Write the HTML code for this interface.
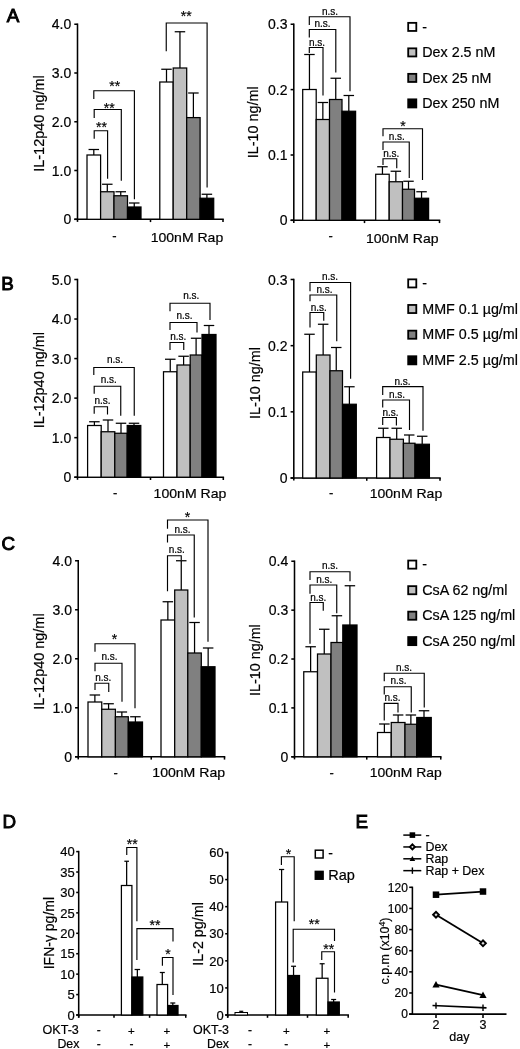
<!DOCTYPE html>
<html><head><meta charset="utf-8"><title>Figure</title>
<style>
html,body{margin:0;padding:0;background:#fff;}
body{width:520px;height:1049px;overflow:hidden;font-family:"Liberation Sans",sans-serif;}
svg{display:block;position:absolute;left:0;top:0;will-change:transform;filter:grayscale(1);}
svg text{font-family:"Liberation Sans",sans-serif;fill:#000;stroke:#000;stroke-width:0.2px;}
</style></head><body>
<svg width="520" height="1049" viewBox="0 0 520 1049">
<rect x="0" y="0" width="520" height="1049" fill="#fff"/>
<text x="6.80" y="22.30" font-size="18.8" style="stroke:#000;stroke-width:0.95px">A</text>
<text x="1.30" y="289.60" font-size="18.8" style="stroke:#000;stroke-width:0.95px">B</text>
<text x="1.60" y="550.30" font-size="18.8" style="stroke:#000;stroke-width:0.95px">C</text>
<text x="2.60" y="827.60" font-size="18.8" style="stroke:#000;stroke-width:0.95px">D</text>
<text x="355.40" y="828.30" font-size="18.8" style="stroke:#000;stroke-width:0.95px">E</text>
<line x1="77.50" y1="23.48" x2="77.50" y2="220.08" stroke="#000" stroke-width="1.55"/>
<line x1="74.30" y1="219.30" x2="223.78" y2="219.30" stroke="#000" stroke-width="1.55"/>
<line x1="74.30" y1="24.25" x2="77.50" y2="24.25" stroke="#000" stroke-width="1.55"/>
<text x="71.20" y="29.29" font-size="14" text-anchor="end" font-weight="normal">4.0</text>
<line x1="74.30" y1="73.00" x2="77.50" y2="73.00" stroke="#000" stroke-width="1.55"/>
<text x="71.20" y="78.04" font-size="14" text-anchor="end" font-weight="normal">3.0</text>
<line x1="74.30" y1="121.75" x2="77.50" y2="121.75" stroke="#000" stroke-width="1.55"/>
<text x="71.20" y="126.79" font-size="14" text-anchor="end" font-weight="normal">2.0</text>
<line x1="74.30" y1="170.50" x2="77.50" y2="170.50" stroke="#000" stroke-width="1.55"/>
<text x="71.20" y="175.54" font-size="14" text-anchor="end" font-weight="normal">1.0</text>
<line x1="74.30" y1="219.30" x2="77.50" y2="219.30" stroke="#000" stroke-width="1.55"/>
<text x="71.20" y="224.34" font-size="14" text-anchor="end" font-weight="normal">0</text>
<line x1="150.50" y1="219.30" x2="150.50" y2="222.10" stroke="#000" stroke-width="1.55"/>
<line x1="223.00" y1="219.30" x2="223.00" y2="222.10" stroke="#000" stroke-width="1.55"/>
<line x1="77.50" y1="219.30" x2="77.50" y2="221.90" stroke="#000" stroke-width="1.55"/>
<line x1="93.80" y1="149.50" x2="93.80" y2="155.00" stroke="#000" stroke-width="1.25"/>
<line x1="88.55" y1="149.50" x2="99.05" y2="149.50" stroke="#000" stroke-width="1.25"/>
<rect x="87.00" y="155.00" width="13.60" height="64.30" fill="#ffffff" stroke="#000" stroke-width="1.25"/>
<line x1="107.30" y1="184.25" x2="107.30" y2="191.75" stroke="#000" stroke-width="1.25"/>
<line x1="102.05" y1="184.25" x2="112.55" y2="184.25" stroke="#000" stroke-width="1.25"/>
<rect x="100.60" y="191.75" width="13.40" height="27.55" fill="#c0c0c0" stroke="#000" stroke-width="1.25"/>
<line x1="120.75" y1="191.75" x2="120.75" y2="195.75" stroke="#000" stroke-width="1.25"/>
<line x1="115.50" y1="191.75" x2="126.00" y2="191.75" stroke="#000" stroke-width="1.25"/>
<rect x="114.00" y="195.75" width="13.50" height="23.55" fill="#808080" stroke="#000" stroke-width="1.25"/>
<line x1="134.25" y1="203.00" x2="134.25" y2="207.00" stroke="#000" stroke-width="1.25"/>
<line x1="129.00" y1="203.00" x2="139.50" y2="203.00" stroke="#000" stroke-width="1.25"/>
<rect x="127.50" y="207.00" width="13.50" height="12.30" fill="#000000" stroke="#000" stroke-width="1.25"/>
<line x1="166.50" y1="69.25" x2="166.50" y2="82.00" stroke="#000" stroke-width="1.25"/>
<line x1="161.25" y1="69.25" x2="171.75" y2="69.25" stroke="#000" stroke-width="1.25"/>
<rect x="159.80" y="82.00" width="13.40" height="137.30" fill="#ffffff" stroke="#000" stroke-width="1.25"/>
<line x1="179.95" y1="31.75" x2="179.95" y2="68.00" stroke="#000" stroke-width="1.25"/>
<line x1="174.70" y1="31.75" x2="185.20" y2="31.75" stroke="#000" stroke-width="1.25"/>
<rect x="173.20" y="68.00" width="13.50" height="151.30" fill="#c0c0c0" stroke="#000" stroke-width="1.25"/>
<line x1="193.40" y1="93.00" x2="193.40" y2="117.60" stroke="#000" stroke-width="1.25"/>
<line x1="188.15" y1="93.00" x2="198.65" y2="93.00" stroke="#000" stroke-width="1.25"/>
<rect x="186.70" y="117.60" width="13.40" height="101.70" fill="#808080" stroke="#000" stroke-width="1.25"/>
<line x1="206.90" y1="194.25" x2="206.90" y2="198.25" stroke="#000" stroke-width="1.25"/>
<line x1="201.65" y1="194.25" x2="212.15" y2="194.25" stroke="#000" stroke-width="1.25"/>
<rect x="200.10" y="198.25" width="13.60" height="21.05" fill="#000000" stroke="#000" stroke-width="1.25"/>
<polyline points="94.20,138.75 94.20,130.70 107.60,130.70 107.60,178.75" fill="none" stroke="#000" stroke-width="1.15" stroke-linejoin="miter"/>
<polyline points="94.20,118.00 94.20,109.50 121.30,109.50 121.30,180.75" fill="none" stroke="#000" stroke-width="1.15" stroke-linejoin="miter"/>
<polyline points="93.80,99.00 93.80,90.70 134.40,90.70 134.40,199.25" fill="none" stroke="#000" stroke-width="1.15" stroke-linejoin="miter"/>
<text x="101.40" y="132.00" font-size="14" text-anchor="middle" font-weight="normal">**</text>
<text x="109.20" y="112.60" font-size="14" text-anchor="middle" font-weight="normal">**</text>
<text x="114.70" y="90.70" font-size="14" text-anchor="middle" font-weight="normal">**</text>
<polyline points="166.25,51.25 166.25,23.00 207.10,23.00 207.10,187.50" fill="none" stroke="#000" stroke-width="1.15" stroke-linejoin="miter"/>
<text x="186.25" y="21.20" font-size="14" text-anchor="middle" font-weight="normal">**</text>
<text x="43.60" y="171.80" font-size="14.3" text-anchor="start" font-weight="normal" transform="rotate(-90 43.60 171.80)" textLength="96.60" lengthAdjust="spacingAndGlyphs">IL-12p40 ng/ml</text>
<text x="114.40" y="240.10" font-size="13" text-anchor="middle" font-weight="normal">-</text>
<text x="150.70" y="241.70" font-size="13.5" text-anchor="start" font-weight="normal" textLength="72.50" lengthAdjust="spacingAndGlyphs">100nM Rap</text>
<line x1="293.80" y1="23.48" x2="293.80" y2="221.08" stroke="#000" stroke-width="1.55"/>
<line x1="290.60" y1="220.30" x2="440.27" y2="220.30" stroke="#000" stroke-width="1.55"/>
<line x1="290.60" y1="24.25" x2="293.80" y2="24.25" stroke="#000" stroke-width="1.55"/>
<text x="287.50" y="29.29" font-size="14" text-anchor="end" font-weight="normal">0.3</text>
<line x1="290.60" y1="89.60" x2="293.80" y2="89.60" stroke="#000" stroke-width="1.55"/>
<text x="287.50" y="94.64" font-size="14" text-anchor="end" font-weight="normal">0.2</text>
<line x1="290.60" y1="155.00" x2="293.80" y2="155.00" stroke="#000" stroke-width="1.55"/>
<text x="287.50" y="160.04" font-size="14" text-anchor="end" font-weight="normal">0.1</text>
<line x1="290.60" y1="220.30" x2="293.80" y2="220.30" stroke="#000" stroke-width="1.55"/>
<text x="287.50" y="225.34" font-size="14" text-anchor="end" font-weight="normal">0</text>
<line x1="364.50" y1="220.30" x2="364.50" y2="223.10" stroke="#000" stroke-width="1.55"/>
<line x1="439.50" y1="220.30" x2="439.50" y2="223.10" stroke="#000" stroke-width="1.55"/>
<line x1="293.80" y1="220.30" x2="293.80" y2="222.90" stroke="#000" stroke-width="1.55"/>
<line x1="309.45" y1="54.50" x2="309.45" y2="89.50" stroke="#000" stroke-width="1.25"/>
<line x1="304.20" y1="54.50" x2="314.70" y2="54.50" stroke="#000" stroke-width="1.25"/>
<rect x="302.70" y="89.50" width="13.50" height="130.80" fill="#ffffff" stroke="#000" stroke-width="1.25"/>
<line x1="322.85" y1="102.50" x2="322.85" y2="119.50" stroke="#000" stroke-width="1.25"/>
<line x1="317.60" y1="102.50" x2="328.10" y2="102.50" stroke="#000" stroke-width="1.25"/>
<rect x="316.20" y="119.50" width="13.30" height="100.80" fill="#c0c0c0" stroke="#000" stroke-width="1.25"/>
<line x1="335.75" y1="78.25" x2="335.75" y2="99.50" stroke="#000" stroke-width="1.25"/>
<line x1="330.50" y1="78.25" x2="341.00" y2="78.25" stroke="#000" stroke-width="1.25"/>
<rect x="329.50" y="99.50" width="12.50" height="120.80" fill="#808080" stroke="#000" stroke-width="1.25"/>
<line x1="348.80" y1="95.50" x2="348.80" y2="111.25" stroke="#000" stroke-width="1.25"/>
<line x1="343.55" y1="95.50" x2="354.05" y2="95.50" stroke="#000" stroke-width="1.25"/>
<rect x="342.00" y="111.25" width="13.60" height="109.05" fill="#000000" stroke="#000" stroke-width="1.25"/>
<line x1="382.45" y1="166.75" x2="382.45" y2="174.25" stroke="#000" stroke-width="1.25"/>
<line x1="377.20" y1="166.75" x2="387.70" y2="166.75" stroke="#000" stroke-width="1.25"/>
<rect x="375.70" y="174.25" width="13.50" height="46.05" fill="#ffffff" stroke="#000" stroke-width="1.25"/>
<line x1="395.85" y1="171.25" x2="395.85" y2="181.75" stroke="#000" stroke-width="1.25"/>
<line x1="390.60" y1="171.25" x2="401.10" y2="171.25" stroke="#000" stroke-width="1.25"/>
<rect x="389.20" y="181.75" width="13.30" height="38.55" fill="#c0c0c0" stroke="#000" stroke-width="1.25"/>
<line x1="408.50" y1="181.25" x2="408.50" y2="189.25" stroke="#000" stroke-width="1.25"/>
<line x1="403.25" y1="181.25" x2="413.75" y2="181.25" stroke="#000" stroke-width="1.25"/>
<rect x="402.50" y="189.25" width="12.00" height="31.05" fill="#808080" stroke="#000" stroke-width="1.25"/>
<line x1="421.55" y1="191.75" x2="421.55" y2="198.25" stroke="#000" stroke-width="1.25"/>
<line x1="416.30" y1="191.75" x2="426.80" y2="191.75" stroke="#000" stroke-width="1.25"/>
<rect x="414.50" y="198.25" width="14.10" height="22.05" fill="#000000" stroke="#000" stroke-width="1.25"/>
<polyline points="309.30,53.00 309.30,47.50 323.00,47.50 323.00,95.50" fill="none" stroke="#000" stroke-width="1.15" stroke-linejoin="miter"/>
<polyline points="309.30,37.50 309.30,29.50 335.80,29.50 335.80,72.50" fill="none" stroke="#000" stroke-width="1.15" stroke-linejoin="miter"/>
<polyline points="309.30,25.00 309.30,16.75 350.00,16.75 350.00,91.25" fill="none" stroke="#000" stroke-width="1.15" stroke-linejoin="miter"/>
<text x="317.00" y="45.60" font-size="10" text-anchor="middle" font-weight="normal">n.s.</text>
<text x="322.50" y="27.30" font-size="10" text-anchor="middle" font-weight="normal">n.s.</text>
<text x="330.00" y="14.80" font-size="10" text-anchor="middle" font-weight="normal">n.s.</text>
<polyline points="383.00,165.00 383.00,158.75 396.75,158.75 396.75,168.25" fill="none" stroke="#000" stroke-width="1.15" stroke-linejoin="miter"/>
<polyline points="383.00,150.00 383.00,142.00 409.25,142.00 409.25,178.00" fill="none" stroke="#000" stroke-width="1.15" stroke-linejoin="miter"/>
<polyline points="383.00,136.25 383.00,128.75 422.50,128.75 422.50,180.00" fill="none" stroke="#000" stroke-width="1.15" stroke-linejoin="miter"/>
<text x="391.25" y="157.00" font-size="10" text-anchor="middle" font-weight="normal">n.s.</text>
<text x="396.75" y="140.00" font-size="10" text-anchor="middle" font-weight="normal">n.s.</text>
<text x="403.00" y="131.45" font-size="14" text-anchor="middle" font-weight="normal">*</text>
<text x="258.40" y="158.20" font-size="14.3" text-anchor="start" font-weight="normal" transform="rotate(-90 258.40 158.20)" textLength="71.80" lengthAdjust="spacingAndGlyphs">IL-10 ng/ml</text>
<text x="330.60" y="240.30" font-size="13" text-anchor="middle" font-weight="normal">-</text>
<text x="366.00" y="242.60" font-size="13.5" text-anchor="start" font-weight="normal" textLength="72.50" lengthAdjust="spacingAndGlyphs">100nM Rap</text>
<rect x="408.20" y="22.85" width="8.10" height="8.10" fill="#ffffff" stroke="#000" stroke-width="1.8"/>
<text x="422.30" y="31.60" font-size="14.3" text-anchor="start" font-weight="normal">-</text>
<rect x="408.20" y="48.35" width="8.10" height="8.10" fill="#c0c0c0" stroke="#000" stroke-width="1.8"/>
<text x="422.30" y="57.10" font-size="14.3" text-anchor="start" font-weight="normal">Dex 2.5 nM</text>
<rect x="408.20" y="73.85" width="8.10" height="8.10" fill="#808080" stroke="#000" stroke-width="1.8"/>
<text x="422.30" y="82.60" font-size="14.3" text-anchor="start" font-weight="normal">Dex 25 nM</text>
<rect x="408.20" y="99.35" width="8.10" height="8.10" fill="#000000" stroke="#000" stroke-width="1.8"/>
<text x="422.30" y="108.10" font-size="14.3" text-anchor="start" font-weight="normal">Dex 250 nM</text>
<line x1="77.50" y1="278.73" x2="77.50" y2="477.97" stroke="#000" stroke-width="1.55"/>
<line x1="74.30" y1="477.20" x2="224.08" y2="477.20" stroke="#000" stroke-width="1.55"/>
<line x1="74.30" y1="279.50" x2="77.50" y2="279.50" stroke="#000" stroke-width="1.55"/>
<text x="71.20" y="284.54" font-size="14" text-anchor="end" font-weight="normal">5.0</text>
<line x1="74.30" y1="319.04" x2="77.50" y2="319.04" stroke="#000" stroke-width="1.55"/>
<text x="71.20" y="324.08" font-size="14" text-anchor="end" font-weight="normal">4.0</text>
<line x1="74.30" y1="358.58" x2="77.50" y2="358.58" stroke="#000" stroke-width="1.55"/>
<text x="71.20" y="363.62" font-size="14" text-anchor="end" font-weight="normal">3.0</text>
<line x1="74.30" y1="398.12" x2="77.50" y2="398.12" stroke="#000" stroke-width="1.55"/>
<text x="71.20" y="403.16" font-size="14" text-anchor="end" font-weight="normal">2.0</text>
<line x1="74.30" y1="437.66" x2="77.50" y2="437.66" stroke="#000" stroke-width="1.55"/>
<text x="71.20" y="442.70" font-size="14" text-anchor="end" font-weight="normal">1.0</text>
<line x1="74.30" y1="477.20" x2="77.50" y2="477.20" stroke="#000" stroke-width="1.55"/>
<text x="71.20" y="482.24" font-size="14" text-anchor="end" font-weight="normal">0</text>
<line x1="150.50" y1="477.20" x2="150.50" y2="480.00" stroke="#000" stroke-width="1.55"/>
<line x1="223.30" y1="477.20" x2="223.30" y2="480.00" stroke="#000" stroke-width="1.55"/>
<line x1="77.50" y1="477.20" x2="77.50" y2="479.80" stroke="#000" stroke-width="1.55"/>
<line x1="94.40" y1="421.75" x2="94.40" y2="425.50" stroke="#000" stroke-width="1.25"/>
<line x1="89.15" y1="421.75" x2="99.65" y2="421.75" stroke="#000" stroke-width="1.25"/>
<rect x="87.60" y="425.50" width="13.60" height="51.70" fill="#ffffff" stroke="#000" stroke-width="1.25"/>
<line x1="108.00" y1="420.00" x2="108.00" y2="431.75" stroke="#000" stroke-width="1.25"/>
<line x1="102.75" y1="420.00" x2="113.25" y2="420.00" stroke="#000" stroke-width="1.25"/>
<rect x="101.20" y="431.75" width="13.60" height="45.45" fill="#c0c0c0" stroke="#000" stroke-width="1.25"/>
<line x1="121.00" y1="423.25" x2="121.00" y2="433.25" stroke="#000" stroke-width="1.25"/>
<line x1="115.75" y1="423.25" x2="126.25" y2="423.25" stroke="#000" stroke-width="1.25"/>
<rect x="114.80" y="433.25" width="12.40" height="43.95" fill="#808080" stroke="#000" stroke-width="1.25"/>
<line x1="134.00" y1="423.25" x2="134.00" y2="425.50" stroke="#000" stroke-width="1.25"/>
<line x1="128.75" y1="423.25" x2="139.25" y2="423.25" stroke="#000" stroke-width="1.25"/>
<rect x="127.20" y="425.50" width="13.60" height="51.70" fill="#000000" stroke="#000" stroke-width="1.25"/>
<line x1="170.25" y1="359.25" x2="170.25" y2="371.75" stroke="#000" stroke-width="1.25"/>
<line x1="165.00" y1="359.25" x2="175.50" y2="359.25" stroke="#000" stroke-width="1.25"/>
<rect x="163.50" y="371.75" width="13.50" height="105.45" fill="#ffffff" stroke="#000" stroke-width="1.25"/>
<line x1="183.60" y1="356.25" x2="183.60" y2="365.00" stroke="#000" stroke-width="1.25"/>
<line x1="178.35" y1="356.25" x2="188.85" y2="356.25" stroke="#000" stroke-width="1.25"/>
<rect x="177.00" y="365.00" width="13.20" height="112.20" fill="#c0c0c0" stroke="#000" stroke-width="1.25"/>
<line x1="196.10" y1="338.25" x2="196.10" y2="355.00" stroke="#000" stroke-width="1.25"/>
<line x1="190.85" y1="338.25" x2="201.35" y2="338.25" stroke="#000" stroke-width="1.25"/>
<rect x="190.20" y="355.00" width="11.80" height="122.20" fill="#808080" stroke="#000" stroke-width="1.25"/>
<line x1="209.00" y1="325.50" x2="209.00" y2="334.50" stroke="#000" stroke-width="1.25"/>
<line x1="203.75" y1="325.50" x2="214.25" y2="325.50" stroke="#000" stroke-width="1.25"/>
<rect x="202.00" y="334.50" width="14.00" height="142.70" fill="#000000" stroke="#000" stroke-width="1.25"/>
<polyline points="94.20,413.75 94.20,406.75 107.50,406.75 107.50,414.50" fill="none" stroke="#000" stroke-width="1.15" stroke-linejoin="miter"/>
<polyline points="94.20,393.75 94.20,386.20 120.75,386.20 120.75,415.75" fill="none" stroke="#000" stroke-width="1.15" stroke-linejoin="miter"/>
<polyline points="93.80,375.00 93.80,367.50 134.25,367.50 134.25,415.75" fill="none" stroke="#000" stroke-width="1.15" stroke-linejoin="miter"/>
<text x="102.50" y="403.75" font-size="10" text-anchor="middle" font-weight="normal">n.s.</text>
<text x="108.75" y="383.20" font-size="10" text-anchor="middle" font-weight="normal">n.s.</text>
<text x="115.00" y="363.30" font-size="10" text-anchor="middle" font-weight="normal">n.s.</text>
<polyline points="170.00,350.00 170.00,342.50 183.75,342.50 183.75,350.00" fill="none" stroke="#000" stroke-width="1.15" stroke-linejoin="miter"/>
<polyline points="170.00,330.00 170.00,322.50 197.00,322.50 197.00,332.50" fill="none" stroke="#000" stroke-width="1.15" stroke-linejoin="miter"/>
<polyline points="170.00,311.25 170.00,303.25 210.00,303.25 210.00,320.00" fill="none" stroke="#000" stroke-width="1.15" stroke-linejoin="miter"/>
<text x="178.25" y="339.50" font-size="10" text-anchor="middle" font-weight="normal">n.s.</text>
<text x="184.50" y="318.75" font-size="10" text-anchor="middle" font-weight="normal">n.s.</text>
<text x="191.25" y="298.75" font-size="10" text-anchor="middle" font-weight="normal">n.s.</text>
<text x="43.90" y="428.30" font-size="14.3" text-anchor="start" font-weight="normal" transform="rotate(-90 43.90 428.30)" textLength="96.30" lengthAdjust="spacingAndGlyphs">IL-12p40 ng/ml</text>
<text x="115.20" y="496.70" font-size="13" text-anchor="middle" font-weight="normal">-</text>
<text x="153.60" y="498.30" font-size="13.5" text-anchor="start" font-weight="normal" textLength="72.80" lengthAdjust="spacingAndGlyphs">100nM Rap</text>
<line x1="293.80" y1="278.73" x2="293.80" y2="478.77" stroke="#000" stroke-width="1.55"/>
<line x1="290.60" y1="478.00" x2="440.77" y2="478.00" stroke="#000" stroke-width="1.55"/>
<line x1="290.60" y1="279.50" x2="293.80" y2="279.50" stroke="#000" stroke-width="1.55"/>
<text x="287.50" y="284.54" font-size="14" text-anchor="end" font-weight="normal">0.3</text>
<line x1="290.60" y1="345.67" x2="293.80" y2="345.67" stroke="#000" stroke-width="1.55"/>
<text x="287.50" y="350.71" font-size="14" text-anchor="end" font-weight="normal">0.2</text>
<line x1="290.60" y1="411.83" x2="293.80" y2="411.83" stroke="#000" stroke-width="1.55"/>
<text x="287.50" y="416.87" font-size="14" text-anchor="end" font-weight="normal">0.1</text>
<line x1="290.60" y1="478.00" x2="293.80" y2="478.00" stroke="#000" stroke-width="1.55"/>
<text x="287.50" y="483.04" font-size="14" text-anchor="end" font-weight="normal">0</text>
<line x1="366.75" y1="478.00" x2="366.75" y2="480.80" stroke="#000" stroke-width="1.55"/>
<line x1="440.00" y1="478.00" x2="440.00" y2="480.80" stroke="#000" stroke-width="1.55"/>
<line x1="293.80" y1="478.00" x2="293.80" y2="480.60" stroke="#000" stroke-width="1.55"/>
<line x1="309.50" y1="334.25" x2="309.50" y2="372.00" stroke="#000" stroke-width="1.25"/>
<line x1="304.25" y1="334.25" x2="314.75" y2="334.25" stroke="#000" stroke-width="1.25"/>
<rect x="302.70" y="372.00" width="13.60" height="106.00" fill="#ffffff" stroke="#000" stroke-width="1.25"/>
<line x1="323.15" y1="324.25" x2="323.15" y2="355.00" stroke="#000" stroke-width="1.25"/>
<line x1="317.90" y1="324.25" x2="328.40" y2="324.25" stroke="#000" stroke-width="1.25"/>
<rect x="316.30" y="355.00" width="13.70" height="123.00" fill="#c0c0c0" stroke="#000" stroke-width="1.25"/>
<line x1="336.25" y1="347.50" x2="336.25" y2="370.75" stroke="#000" stroke-width="1.25"/>
<line x1="331.00" y1="347.50" x2="341.50" y2="347.50" stroke="#000" stroke-width="1.25"/>
<rect x="330.00" y="370.75" width="12.50" height="107.25" fill="#808080" stroke="#000" stroke-width="1.25"/>
<line x1="349.40" y1="386.75" x2="349.40" y2="404.25" stroke="#000" stroke-width="1.25"/>
<line x1="344.15" y1="386.75" x2="354.65" y2="386.75" stroke="#000" stroke-width="1.25"/>
<rect x="342.50" y="404.25" width="13.80" height="73.75" fill="#000000" stroke="#000" stroke-width="1.25"/>
<line x1="383.30" y1="428.25" x2="383.30" y2="437.50" stroke="#000" stroke-width="1.25"/>
<line x1="378.05" y1="428.25" x2="388.55" y2="428.25" stroke="#000" stroke-width="1.25"/>
<rect x="376.60" y="437.50" width="13.40" height="40.50" fill="#ffffff" stroke="#000" stroke-width="1.25"/>
<line x1="396.70" y1="428.25" x2="396.70" y2="439.25" stroke="#000" stroke-width="1.25"/>
<line x1="391.45" y1="428.25" x2="401.95" y2="428.25" stroke="#000" stroke-width="1.25"/>
<rect x="390.00" y="439.25" width="13.40" height="38.75" fill="#c0c0c0" stroke="#000" stroke-width="1.25"/>
<line x1="409.20" y1="435.00" x2="409.20" y2="443.25" stroke="#000" stroke-width="1.25"/>
<line x1="403.95" y1="435.00" x2="414.45" y2="435.00" stroke="#000" stroke-width="1.25"/>
<rect x="403.40" y="443.25" width="11.60" height="34.75" fill="#808080" stroke="#000" stroke-width="1.25"/>
<line x1="422.20" y1="436.25" x2="422.20" y2="444.25" stroke="#000" stroke-width="1.25"/>
<line x1="416.95" y1="436.25" x2="427.45" y2="436.25" stroke="#000" stroke-width="1.25"/>
<rect x="415.00" y="444.25" width="14.40" height="33.75" fill="#000000" stroke="#000" stroke-width="1.25"/>
<polyline points="310.00,327.50 310.00,312.50 323.75,312.50 323.75,320.75" fill="none" stroke="#000" stroke-width="1.15" stroke-linejoin="miter"/>
<polyline points="310.00,301.25 310.00,295.00 336.75,295.00 336.75,341.25" fill="none" stroke="#000" stroke-width="1.15" stroke-linejoin="miter"/>
<polyline points="310.00,291.25 310.00,282.50 350.60,282.50 350.60,378.75" fill="none" stroke="#000" stroke-width="1.15" stroke-linejoin="miter"/>
<text x="318.75" y="310.50" font-size="10" text-anchor="middle" font-weight="normal">n.s.</text>
<text x="324.50" y="293.00" font-size="10" text-anchor="middle" font-weight="normal">n.s.</text>
<text x="330.00" y="279.50" font-size="10" text-anchor="middle" font-weight="normal">n.s.</text>
<polyline points="382.70,425.00 382.70,417.50 396.40,417.50 396.40,425.50" fill="none" stroke="#000" stroke-width="1.15" stroke-linejoin="miter"/>
<polyline points="382.70,407.50 382.70,400.00 409.50,400.00 409.50,430.00" fill="none" stroke="#000" stroke-width="1.15" stroke-linejoin="miter"/>
<polyline points="382.70,395.00 382.70,386.60 423.00,386.60 423.00,430.75" fill="none" stroke="#000" stroke-width="1.15" stroke-linejoin="miter"/>
<text x="390.60" y="416.00" font-size="10" text-anchor="middle" font-weight="normal">n.s.</text>
<text x="397.00" y="397.80" font-size="10" text-anchor="middle" font-weight="normal">n.s.</text>
<text x="402.50" y="384.60" font-size="10" text-anchor="middle" font-weight="normal">n.s.</text>
<text x="260.30" y="418.90" font-size="14.3" text-anchor="start" font-weight="normal" transform="rotate(-90 260.30 418.90)" textLength="71.80" lengthAdjust="spacingAndGlyphs">IL-10 ng/ml</text>
<text x="331.10" y="496.90" font-size="13" text-anchor="middle" font-weight="normal">-</text>
<text x="369.70" y="498.30" font-size="13.5" text-anchor="start" font-weight="normal" textLength="72.50" lengthAdjust="spacingAndGlyphs">100nM Rap</text>
<rect x="408.20" y="279.35" width="8.10" height="8.10" fill="#ffffff" stroke="#000" stroke-width="1.8"/>
<text x="422.30" y="288.10" font-size="14.3" text-anchor="start" font-weight="normal">-</text>
<rect x="408.20" y="304.95" width="8.10" height="8.10" fill="#c0c0c0" stroke="#000" stroke-width="1.8"/>
<text x="422.30" y="313.70" font-size="14.3" text-anchor="start" font-weight="normal">MMF 0.1 µg/ml</text>
<rect x="408.20" y="330.65" width="8.10" height="8.10" fill="#808080" stroke="#000" stroke-width="1.8"/>
<text x="422.30" y="339.40" font-size="14.3" text-anchor="start" font-weight="normal">MMF 0.5 µg/ml</text>
<rect x="408.20" y="356.25" width="8.10" height="8.10" fill="#000000" stroke="#000" stroke-width="1.8"/>
<text x="422.30" y="365.00" font-size="14.3" text-anchor="start" font-weight="normal">MMF 2.5 µg/ml</text>
<line x1="78.25" y1="559.98" x2="78.25" y2="757.57" stroke="#000" stroke-width="1.55"/>
<line x1="75.05" y1="756.80" x2="225.28" y2="756.80" stroke="#000" stroke-width="1.55"/>
<line x1="75.05" y1="560.75" x2="78.25" y2="560.75" stroke="#000" stroke-width="1.55"/>
<text x="71.95" y="565.79" font-size="14" text-anchor="end" font-weight="normal">4.0</text>
<line x1="75.05" y1="609.76" x2="78.25" y2="609.76" stroke="#000" stroke-width="1.55"/>
<text x="71.95" y="614.80" font-size="14" text-anchor="end" font-weight="normal">3.0</text>
<line x1="75.05" y1="658.77" x2="78.25" y2="658.77" stroke="#000" stroke-width="1.55"/>
<text x="71.95" y="663.81" font-size="14" text-anchor="end" font-weight="normal">2.0</text>
<line x1="75.05" y1="707.79" x2="78.25" y2="707.79" stroke="#000" stroke-width="1.55"/>
<text x="71.95" y="712.83" font-size="14" text-anchor="end" font-weight="normal">1.0</text>
<line x1="75.05" y1="756.80" x2="78.25" y2="756.80" stroke="#000" stroke-width="1.55"/>
<text x="71.95" y="761.84" font-size="14" text-anchor="end" font-weight="normal">0</text>
<line x1="151.25" y1="756.80" x2="151.25" y2="759.60" stroke="#000" stroke-width="1.55"/>
<line x1="224.50" y1="756.80" x2="224.50" y2="759.60" stroke="#000" stroke-width="1.55"/>
<line x1="78.25" y1="756.80" x2="78.25" y2="759.40" stroke="#000" stroke-width="1.55"/>
<line x1="94.88" y1="695.00" x2="94.88" y2="702.00" stroke="#000" stroke-width="1.25"/>
<line x1="89.62" y1="695.00" x2="100.12" y2="695.00" stroke="#000" stroke-width="1.25"/>
<rect x="88.00" y="702.00" width="13.75" height="54.80" fill="#ffffff" stroke="#000" stroke-width="1.25"/>
<line x1="108.58" y1="703.75" x2="108.58" y2="709.25" stroke="#000" stroke-width="1.25"/>
<line x1="103.33" y1="703.75" x2="113.83" y2="703.75" stroke="#000" stroke-width="1.25"/>
<rect x="101.75" y="709.25" width="13.65" height="47.55" fill="#c0c0c0" stroke="#000" stroke-width="1.25"/>
<line x1="121.85" y1="712.00" x2="121.85" y2="716.75" stroke="#000" stroke-width="1.25"/>
<line x1="116.60" y1="712.00" x2="127.10" y2="712.00" stroke="#000" stroke-width="1.25"/>
<rect x="115.40" y="716.75" width="12.90" height="40.05" fill="#808080" stroke="#000" stroke-width="1.25"/>
<line x1="135.40" y1="716.75" x2="135.40" y2="722.00" stroke="#000" stroke-width="1.25"/>
<line x1="130.15" y1="716.75" x2="140.65" y2="716.75" stroke="#000" stroke-width="1.25"/>
<rect x="128.30" y="722.00" width="14.20" height="34.80" fill="#000000" stroke="#000" stroke-width="1.25"/>
<line x1="167.85" y1="601.75" x2="167.85" y2="620.00" stroke="#000" stroke-width="1.25"/>
<line x1="162.60" y1="601.75" x2="173.10" y2="601.75" stroke="#000" stroke-width="1.25"/>
<rect x="161.00" y="620.00" width="13.70" height="136.80" fill="#ffffff" stroke="#000" stroke-width="1.25"/>
<line x1="181.25" y1="560.75" x2="181.25" y2="590.00" stroke="#000" stroke-width="1.25"/>
<line x1="176.00" y1="560.75" x2="186.50" y2="560.75" stroke="#000" stroke-width="1.25"/>
<rect x="174.70" y="590.00" width="13.10" height="166.80" fill="#c0c0c0" stroke="#000" stroke-width="1.25"/>
<line x1="194.55" y1="622.50" x2="194.55" y2="653.00" stroke="#000" stroke-width="1.25"/>
<line x1="189.30" y1="622.50" x2="199.80" y2="622.50" stroke="#000" stroke-width="1.25"/>
<rect x="187.80" y="653.00" width="13.50" height="103.80" fill="#808080" stroke="#000" stroke-width="1.25"/>
<line x1="208.15" y1="648.00" x2="208.15" y2="666.75" stroke="#000" stroke-width="1.25"/>
<line x1="202.90" y1="648.00" x2="213.40" y2="648.00" stroke="#000" stroke-width="1.25"/>
<rect x="201.30" y="666.75" width="13.70" height="90.05" fill="#000000" stroke="#000" stroke-width="1.25"/>
<polyline points="95.00,690.00 95.00,683.25 108.75,683.25 108.75,692.00" fill="none" stroke="#000" stroke-width="1.15" stroke-linejoin="miter"/>
<polyline points="95.00,671.25 95.00,663.25 122.00,663.25 122.00,701.75" fill="none" stroke="#000" stroke-width="1.15" stroke-linejoin="miter"/>
<polyline points="95.00,651.75 95.00,643.75 135.00,643.75 135.00,708.25" fill="none" stroke="#000" stroke-width="1.15" stroke-linejoin="miter"/>
<text x="103.25" y="680.75" font-size="10" text-anchor="middle" font-weight="normal">n.s.</text>
<text x="109.50" y="660.00" font-size="10" text-anchor="middle" font-weight="normal">n.s.</text>
<text x="114.50" y="644.45" font-size="14" text-anchor="middle" font-weight="normal">*</text>
<polyline points="167.50,591.25 167.50,555.75 181.25,555.75 181.25,560.00" fill="none" stroke="#000" stroke-width="1.15" stroke-linejoin="miter"/>
<polyline points="167.50,542.50 167.50,535.00 194.25,535.00 194.25,617.50" fill="none" stroke="#000" stroke-width="1.15" stroke-linejoin="miter"/>
<polyline points="167.50,528.75 167.50,520.00 208.00,520.00 208.00,641.75" fill="none" stroke="#000" stroke-width="1.15" stroke-linejoin="miter"/>
<text x="176.75" y="553.00" font-size="10" text-anchor="middle" font-weight="normal">n.s.</text>
<text x="182.50" y="532.50" font-size="10" text-anchor="middle" font-weight="normal">n.s.</text>
<text x="187.50" y="521.95" font-size="14" text-anchor="middle" font-weight="normal">*</text>
<text x="44.10" y="709.80" font-size="14.3" text-anchor="start" font-weight="normal" transform="rotate(-90 44.10 709.80)" textLength="96.40" lengthAdjust="spacingAndGlyphs">IL-12p40 ng/ml</text>
<text x="115.60" y="776.80" font-size="13" text-anchor="middle" font-weight="normal">-</text>
<text x="152.30" y="777.20" font-size="13.5" text-anchor="start" font-weight="normal" textLength="72.80" lengthAdjust="spacingAndGlyphs">100nM Rap</text>
<line x1="294.50" y1="560.48" x2="294.50" y2="757.57" stroke="#000" stroke-width="1.55"/>
<line x1="291.30" y1="756.80" x2="441.52" y2="756.80" stroke="#000" stroke-width="1.55"/>
<line x1="291.30" y1="561.25" x2="294.50" y2="561.25" stroke="#000" stroke-width="1.55"/>
<text x="288.20" y="566.29" font-size="14" text-anchor="end" font-weight="normal">0.4</text>
<line x1="291.30" y1="610.14" x2="294.50" y2="610.14" stroke="#000" stroke-width="1.55"/>
<text x="288.20" y="615.18" font-size="14" text-anchor="end" font-weight="normal">0.3</text>
<line x1="291.30" y1="659.02" x2="294.50" y2="659.02" stroke="#000" stroke-width="1.55"/>
<text x="288.20" y="664.06" font-size="14" text-anchor="end" font-weight="normal">0.2</text>
<line x1="291.30" y1="707.91" x2="294.50" y2="707.91" stroke="#000" stroke-width="1.55"/>
<text x="288.20" y="712.95" font-size="14" text-anchor="end" font-weight="normal">0.1</text>
<line x1="291.30" y1="756.80" x2="294.50" y2="756.80" stroke="#000" stroke-width="1.55"/>
<text x="288.20" y="761.84" font-size="14" text-anchor="end" font-weight="normal">0</text>
<line x1="366.75" y1="756.80" x2="366.75" y2="759.60" stroke="#000" stroke-width="1.55"/>
<line x1="440.75" y1="756.80" x2="440.75" y2="759.60" stroke="#000" stroke-width="1.55"/>
<line x1="294.50" y1="756.80" x2="294.50" y2="759.40" stroke="#000" stroke-width="1.55"/>
<line x1="310.62" y1="646.75" x2="310.62" y2="671.75" stroke="#000" stroke-width="1.25"/>
<line x1="305.38" y1="646.75" x2="315.88" y2="646.75" stroke="#000" stroke-width="1.25"/>
<rect x="303.75" y="671.75" width="13.75" height="85.05" fill="#ffffff" stroke="#000" stroke-width="1.25"/>
<line x1="324.25" y1="629.25" x2="324.25" y2="654.00" stroke="#000" stroke-width="1.25"/>
<line x1="319.00" y1="629.25" x2="329.50" y2="629.25" stroke="#000" stroke-width="1.25"/>
<rect x="317.50" y="654.00" width="13.50" height="102.80" fill="#c0c0c0" stroke="#000" stroke-width="1.25"/>
<line x1="336.90" y1="615.75" x2="336.90" y2="642.50" stroke="#000" stroke-width="1.25"/>
<line x1="331.65" y1="615.75" x2="342.15" y2="615.75" stroke="#000" stroke-width="1.25"/>
<rect x="331.00" y="642.50" width="11.80" height="114.30" fill="#808080" stroke="#000" stroke-width="1.25"/>
<line x1="349.90" y1="585.75" x2="349.90" y2="625.00" stroke="#000" stroke-width="1.25"/>
<line x1="344.65" y1="585.75" x2="355.15" y2="585.75" stroke="#000" stroke-width="1.25"/>
<rect x="342.80" y="625.00" width="14.20" height="131.80" fill="#000000" stroke="#000" stroke-width="1.25"/>
<line x1="384.38" y1="724.00" x2="384.38" y2="732.50" stroke="#000" stroke-width="1.25"/>
<line x1="379.12" y1="724.00" x2="389.62" y2="724.00" stroke="#000" stroke-width="1.25"/>
<rect x="377.50" y="732.50" width="13.75" height="24.30" fill="#ffffff" stroke="#000" stroke-width="1.25"/>
<line x1="398.12" y1="715.00" x2="398.12" y2="722.50" stroke="#000" stroke-width="1.25"/>
<line x1="392.88" y1="715.00" x2="403.38" y2="715.00" stroke="#000" stroke-width="1.25"/>
<rect x="391.25" y="722.50" width="13.75" height="34.30" fill="#c0c0c0" stroke="#000" stroke-width="1.25"/>
<line x1="410.88" y1="715.00" x2="410.88" y2="724.25" stroke="#000" stroke-width="1.25"/>
<line x1="405.62" y1="715.00" x2="416.12" y2="715.00" stroke="#000" stroke-width="1.25"/>
<rect x="405.00" y="724.25" width="11.75" height="32.55" fill="#808080" stroke="#000" stroke-width="1.25"/>
<line x1="424.00" y1="710.75" x2="424.00" y2="717.50" stroke="#000" stroke-width="1.25"/>
<line x1="418.75" y1="710.75" x2="429.25" y2="710.75" stroke="#000" stroke-width="1.25"/>
<rect x="416.75" y="717.50" width="14.50" height="39.30" fill="#000000" stroke="#000" stroke-width="1.25"/>
<polyline points="310.00,643.75 310.00,602.50 323.25,602.50 323.25,610.75" fill="none" stroke="#000" stroke-width="1.15" stroke-linejoin="miter"/>
<polyline points="310.00,593.75 310.00,585.00 336.75,585.00 336.75,613.25" fill="none" stroke="#000" stroke-width="1.15" stroke-linejoin="miter"/>
<polyline points="310.00,580.00 310.00,571.75 350.00,571.75 350.00,581.25" fill="none" stroke="#000" stroke-width="1.15" stroke-linejoin="miter"/>
<text x="318.25" y="600.75" font-size="10" text-anchor="middle" font-weight="normal">n.s.</text>
<text x="324.25" y="582.50" font-size="10" text-anchor="middle" font-weight="normal">n.s.</text>
<text x="330.00" y="569.25" font-size="10" text-anchor="middle" font-weight="normal">n.s.</text>
<polyline points="384.25,720.50 384.25,703.40 398.00,703.40 398.00,712.50" fill="none" stroke="#000" stroke-width="1.15" stroke-linejoin="miter"/>
<polyline points="384.25,694.50 384.25,686.75 411.25,686.75 411.25,712.50" fill="none" stroke="#000" stroke-width="1.15" stroke-linejoin="miter"/>
<polyline points="384.25,681.25 384.25,673.25 424.25,673.25 424.25,707.50" fill="none" stroke="#000" stroke-width="1.15" stroke-linejoin="miter"/>
<text x="392.50" y="701.00" font-size="10" text-anchor="middle" font-weight="normal">n.s.</text>
<text x="398.50" y="684.25" font-size="10" text-anchor="middle" font-weight="normal">n.s.</text>
<text x="404.00" y="671.00" font-size="10" text-anchor="middle" font-weight="normal">n.s.</text>
<text x="260.10" y="696.00" font-size="14.3" text-anchor="start" font-weight="normal" transform="rotate(-90 260.10 696.00)" textLength="71.80" lengthAdjust="spacingAndGlyphs">IL-10 ng/ml</text>
<text x="331.60" y="776.80" font-size="13" text-anchor="middle" font-weight="normal">-</text>
<text x="369.70" y="777.20" font-size="13.5" text-anchor="start" font-weight="normal" textLength="72.00" lengthAdjust="spacingAndGlyphs">100nM Rap</text>
<rect x="408.20" y="560.55" width="8.10" height="8.10" fill="#ffffff" stroke="#000" stroke-width="1.8"/>
<text x="422.30" y="569.30" font-size="14.3" text-anchor="start" font-weight="normal">-</text>
<rect x="408.20" y="586.15" width="8.10" height="8.10" fill="#c0c0c0" stroke="#000" stroke-width="1.8"/>
<text x="422.30" y="594.90" font-size="14.3" text-anchor="start" font-weight="normal">CsA 62 ng/ml</text>
<rect x="408.20" y="611.65" width="8.10" height="8.10" fill="#808080" stroke="#000" stroke-width="1.8"/>
<text x="422.30" y="620.40" font-size="14.3" text-anchor="start" font-weight="normal">CsA 125 ng/ml</text>
<rect x="408.20" y="637.05" width="8.10" height="8.10" fill="#000000" stroke="#000" stroke-width="1.8"/>
<text x="422.30" y="645.80" font-size="14.3" text-anchor="start" font-weight="normal">CsA 250 ng/ml</text>
<line x1="78.70" y1="850.83" x2="78.70" y2="1015.77" stroke="#000" stroke-width="1.55"/>
<line x1="76.20" y1="1015.00" x2="186.53" y2="1015.00" stroke="#000" stroke-width="1.55"/>
<line x1="76.20" y1="851.60" x2="78.70" y2="851.60" stroke="#000" stroke-width="1.55"/>
<text x="74.70" y="856.28" font-size="13" text-anchor="end" font-weight="normal">40</text>
<line x1="76.20" y1="872.02" x2="78.70" y2="872.02" stroke="#000" stroke-width="1.55"/>
<text x="74.70" y="876.70" font-size="13" text-anchor="end" font-weight="normal">35</text>
<line x1="76.20" y1="892.45" x2="78.70" y2="892.45" stroke="#000" stroke-width="1.55"/>
<text x="74.70" y="897.13" font-size="13" text-anchor="end" font-weight="normal">30</text>
<line x1="76.20" y1="912.88" x2="78.70" y2="912.88" stroke="#000" stroke-width="1.55"/>
<text x="74.70" y="917.55" font-size="13" text-anchor="end" font-weight="normal">25</text>
<line x1="76.20" y1="933.30" x2="78.70" y2="933.30" stroke="#000" stroke-width="1.55"/>
<text x="74.70" y="937.98" font-size="13" text-anchor="end" font-weight="normal">20</text>
<line x1="76.20" y1="953.73" x2="78.70" y2="953.73" stroke="#000" stroke-width="1.55"/>
<text x="74.70" y="958.40" font-size="13" text-anchor="end" font-weight="normal">15</text>
<line x1="76.20" y1="974.15" x2="78.70" y2="974.15" stroke="#000" stroke-width="1.55"/>
<text x="74.70" y="978.83" font-size="13" text-anchor="end" font-weight="normal">10</text>
<line x1="76.20" y1="994.58" x2="78.70" y2="994.58" stroke="#000" stroke-width="1.55"/>
<text x="74.70" y="999.25" font-size="13" text-anchor="end" font-weight="normal">5</text>
<line x1="76.20" y1="1015.00" x2="78.70" y2="1015.00" stroke="#000" stroke-width="1.55"/>
<text x="74.70" y="1019.68" font-size="13" text-anchor="end" font-weight="normal">0</text>
<line x1="78.70" y1="1015.00" x2="78.70" y2="1017.80" stroke="#000" stroke-width="1.55"/>
<line x1="114.00" y1="1015.00" x2="114.00" y2="1017.80" stroke="#000" stroke-width="1.55"/>
<line x1="149.60" y1="1015.00" x2="149.60" y2="1017.80" stroke="#000" stroke-width="1.55"/>
<line x1="185.75" y1="1015.00" x2="185.75" y2="1017.80" stroke="#000" stroke-width="1.55"/>
<line x1="78.70" y1="1015.00" x2="78.70" y2="1017.60" stroke="#000" stroke-width="1.55"/>
<line x1="126.65" y1="861.25" x2="126.65" y2="885.50" stroke="#000" stroke-width="1.25"/>
<line x1="124.35" y1="861.25" x2="128.95" y2="861.25" stroke="#000" stroke-width="1.25"/>
<rect x="121.40" y="885.50" width="10.50" height="129.50" fill="#ffffff" stroke="#000" stroke-width="1.25"/>
<line x1="137.35" y1="969.50" x2="137.35" y2="977.00" stroke="#000" stroke-width="1.25"/>
<line x1="134.60" y1="969.50" x2="140.10" y2="969.50" stroke="#000" stroke-width="1.25"/>
<rect x="131.90" y="977.00" width="10.90" height="38.00" fill="#000000" stroke="#000" stroke-width="1.25"/>
<line x1="162.30" y1="972.50" x2="162.30" y2="984.50" stroke="#000" stroke-width="1.25"/>
<line x1="159.80" y1="972.50" x2="164.80" y2="972.50" stroke="#000" stroke-width="1.25"/>
<rect x="157.00" y="984.50" width="10.60" height="30.50" fill="#ffffff" stroke="#000" stroke-width="1.25"/>
<line x1="172.80" y1="1003.00" x2="172.80" y2="1005.50" stroke="#000" stroke-width="1.25"/>
<line x1="170.30" y1="1003.00" x2="175.30" y2="1003.00" stroke="#000" stroke-width="1.25"/>
<rect x="167.60" y="1005.50" width="10.40" height="9.50" fill="#000000" stroke="#000" stroke-width="1.25"/>
<polyline points="126.75,855.00 126.75,847.50 136.90,847.50 136.90,921.25" fill="none" stroke="#000" stroke-width="1.15" stroke-linejoin="miter"/>
<text x="132.30" y="849.00" font-size="14" text-anchor="middle" font-weight="normal">**</text>
<polyline points="136.90,960.00 136.90,928.60 173.00,928.60 173.00,941.50" fill="none" stroke="#000" stroke-width="1.15" stroke-linejoin="miter"/>
<text x="155.00" y="930.00" font-size="14" text-anchor="middle" font-weight="normal">**</text>
<polyline points="162.40,965.75 162.40,957.50 173.00,957.50 173.00,995.00" fill="none" stroke="#000" stroke-width="1.15" stroke-linejoin="miter"/>
<text x="168.00" y="959.45" font-size="14" text-anchor="middle" font-weight="normal">*</text>
<text x="53.60" y="969.30" font-size="14.3" text-anchor="start" font-weight="normal" transform="rotate(-90 53.60 969.30)" textLength="72.40" lengthAdjust="spacingAndGlyphs">IFN-γ pg/ml</text>
<text x="42.50" y="1033.50" font-size="12.5" text-anchor="start" font-weight="normal" textLength="36.30" lengthAdjust="spacingAndGlyphs">OKT-3</text>
<text x="57.40" y="1047.70" font-size="12.5" text-anchor="start" font-weight="normal" textLength="22.00" lengthAdjust="spacingAndGlyphs">Dex</text>
<text x="98.75" y="1034.00" font-size="12" text-anchor="middle" font-weight="normal">-</text>
<text x="98.75" y="1048.30" font-size="12" text-anchor="middle" font-weight="normal">-</text>
<text x="131.40" y="1034.90" font-size="11.5" text-anchor="middle" font-weight="normal">+</text>
<text x="131.40" y="1048.30" font-size="12" text-anchor="middle" font-weight="normal">-</text>
<text x="166.75" y="1034.90" font-size="11.5" text-anchor="middle" font-weight="normal">+</text>
<text x="166.75" y="1049.20" font-size="11.5" text-anchor="middle" font-weight="normal">+</text>
<line x1="227.70" y1="851.73" x2="227.70" y2="1015.77" stroke="#000" stroke-width="1.55"/>
<line x1="225.20" y1="1015.00" x2="348.97" y2="1015.00" stroke="#000" stroke-width="1.55"/>
<line x1="225.20" y1="852.50" x2="227.70" y2="852.50" stroke="#000" stroke-width="1.55"/>
<text x="223.70" y="857.18" font-size="13" text-anchor="end" font-weight="normal">60</text>
<line x1="225.20" y1="879.58" x2="227.70" y2="879.58" stroke="#000" stroke-width="1.55"/>
<text x="223.70" y="884.26" font-size="13" text-anchor="end" font-weight="normal">50</text>
<line x1="225.20" y1="906.67" x2="227.70" y2="906.67" stroke="#000" stroke-width="1.55"/>
<text x="223.70" y="911.35" font-size="13" text-anchor="end" font-weight="normal">40</text>
<line x1="225.20" y1="933.75" x2="227.70" y2="933.75" stroke="#000" stroke-width="1.55"/>
<text x="223.70" y="938.43" font-size="13" text-anchor="end" font-weight="normal">30</text>
<line x1="225.20" y1="960.83" x2="227.70" y2="960.83" stroke="#000" stroke-width="1.55"/>
<text x="223.70" y="965.51" font-size="13" text-anchor="end" font-weight="normal">20</text>
<line x1="225.20" y1="987.92" x2="227.70" y2="987.92" stroke="#000" stroke-width="1.55"/>
<text x="223.70" y="992.60" font-size="13" text-anchor="end" font-weight="normal">10</text>
<line x1="225.20" y1="1015.00" x2="227.70" y2="1015.00" stroke="#000" stroke-width="1.55"/>
<text x="223.70" y="1019.68" font-size="13" text-anchor="end" font-weight="normal">0</text>
<line x1="227.70" y1="1015.00" x2="227.70" y2="1017.80" stroke="#000" stroke-width="1.55"/>
<line x1="267.50" y1="1015.00" x2="267.50" y2="1017.80" stroke="#000" stroke-width="1.55"/>
<line x1="307.50" y1="1015.00" x2="307.50" y2="1017.80" stroke="#000" stroke-width="1.55"/>
<line x1="348.20" y1="1015.00" x2="348.20" y2="1017.80" stroke="#000" stroke-width="1.55"/>
<line x1="227.70" y1="1015.00" x2="227.70" y2="1017.60" stroke="#000" stroke-width="1.55"/>
<line x1="241.25" y1="1011.30" x2="241.25" y2="1012.50" stroke="#000" stroke-width="1.25"/>
<line x1="239.25" y1="1011.30" x2="243.25" y2="1011.30" stroke="#000" stroke-width="1.25"/>
<rect x="235.00" y="1012.50" width="12.50" height="2.50" fill="#ffffff" stroke="#000" stroke-width="1"/>
<line x1="281.60" y1="869.50" x2="281.60" y2="902.00" stroke="#000" stroke-width="1.25"/>
<line x1="279.00" y1="869.50" x2="284.20" y2="869.50" stroke="#000" stroke-width="1.25"/>
<rect x="275.60" y="902.00" width="12.00" height="113.00" fill="#ffffff" stroke="#000" stroke-width="1.25"/>
<line x1="293.55" y1="966.25" x2="293.55" y2="975.50" stroke="#000" stroke-width="1.25"/>
<line x1="291.05" y1="966.25" x2="296.05" y2="966.25" stroke="#000" stroke-width="1.25"/>
<rect x="287.60" y="975.50" width="11.90" height="39.50" fill="#000000" stroke="#000" stroke-width="1.25"/>
<line x1="322.15" y1="963.75" x2="322.15" y2="978.25" stroke="#000" stroke-width="1.25"/>
<line x1="319.65" y1="963.75" x2="324.65" y2="963.75" stroke="#000" stroke-width="1.25"/>
<rect x="316.30" y="978.25" width="11.70" height="36.75" fill="#ffffff" stroke="#000" stroke-width="1.25"/>
<line x1="333.65" y1="999.50" x2="333.65" y2="1002.00" stroke="#000" stroke-width="1.25"/>
<line x1="331.15" y1="999.50" x2="336.15" y2="999.50" stroke="#000" stroke-width="1.25"/>
<rect x="328.00" y="1002.00" width="11.30" height="13.00" fill="#000000" stroke="#000" stroke-width="1.25"/>
<polyline points="281.40,865.00 281.40,856.75 294.20,856.75 294.20,921.25" fill="none" stroke="#000" stroke-width="1.15" stroke-linejoin="miter"/>
<text x="288.60" y="858.95" font-size="14" text-anchor="middle" font-weight="normal">*</text>
<polyline points="293.20,962.50 293.20,929.25 334.50,929.25 334.50,941.00" fill="none" stroke="#000" stroke-width="1.15" stroke-linejoin="miter"/>
<text x="314.25" y="929.45" font-size="14" text-anchor="middle" font-weight="normal">**</text>
<polyline points="321.75,960.00 321.75,951.75 334.50,951.75 334.50,992.50" fill="none" stroke="#000" stroke-width="1.15" stroke-linejoin="miter"/>
<text x="328.75" y="953.90" font-size="14" text-anchor="middle" font-weight="normal">**</text>
<text x="203.10" y="965.80" font-size="14.3" text-anchor="start" font-weight="normal" transform="rotate(-90 203.10 965.80)" textLength="63.70" lengthAdjust="spacingAndGlyphs">IL-2 pg/ml</text>
<text x="193.00" y="1033.50" font-size="12.5" text-anchor="start" font-weight="normal" textLength="36.00" lengthAdjust="spacingAndGlyphs">OKT-3</text>
<text x="207.00" y="1047.70" font-size="12.5" text-anchor="start" font-weight="normal" textLength="22.00" lengthAdjust="spacingAndGlyphs">Dex</text>
<text x="250.00" y="1034.00" font-size="12" text-anchor="middle" font-weight="normal">-</text>
<text x="250.00" y="1048.30" font-size="12" text-anchor="middle" font-weight="normal">-</text>
<text x="286.30" y="1034.90" font-size="11.5" text-anchor="middle" font-weight="normal">+</text>
<text x="286.30" y="1048.30" font-size="12" text-anchor="middle" font-weight="normal">-</text>
<text x="326.75" y="1034.90" font-size="11.5" text-anchor="middle" font-weight="normal">+</text>
<text x="326.75" y="1049.20" font-size="11.5" text-anchor="middle" font-weight="normal">+</text>
<rect x="315.3" y="850.2" width="7.8" height="7.8" fill="#fff" stroke="#000" stroke-width="1.5"/>
<rect x="315.3" y="871.4" width="7.8" height="7.8" fill="#000" stroke="#000" stroke-width="1.5"/>
<text x="328.30" y="858.00" font-size="14" text-anchor="start" font-weight="normal">-</text>
<text x="328.20" y="879.80" font-size="14.5" text-anchor="start" font-weight="normal">Rap</text>
<line x1="412.40" y1="886.65" x2="412.40" y2="1014.75" stroke="#000" stroke-width="1.55"/>
<line x1="409.20" y1="1014.10" x2="506.50" y2="1014.10" stroke="#000" stroke-width="1.7"/>
<line x1="409.20" y1="887.30" x2="412.40" y2="887.30" stroke="#000" stroke-width="1.55"/>
<text x="407.90" y="891.60" font-size="12" text-anchor="end" font-weight="normal">120</text>
<line x1="409.20" y1="908.43" x2="412.40" y2="908.43" stroke="#000" stroke-width="1.55"/>
<text x="407.90" y="912.73" font-size="12" text-anchor="end" font-weight="normal">100</text>
<line x1="409.20" y1="929.57" x2="412.40" y2="929.57" stroke="#000" stroke-width="1.55"/>
<text x="407.90" y="933.87" font-size="12" text-anchor="end" font-weight="normal">80</text>
<line x1="409.20" y1="950.70" x2="412.40" y2="950.70" stroke="#000" stroke-width="1.55"/>
<text x="407.90" y="955.00" font-size="12" text-anchor="end" font-weight="normal">60</text>
<line x1="409.20" y1="971.83" x2="412.40" y2="971.83" stroke="#000" stroke-width="1.55"/>
<text x="407.90" y="976.13" font-size="12" text-anchor="end" font-weight="normal">40</text>
<line x1="409.20" y1="992.97" x2="412.40" y2="992.97" stroke="#000" stroke-width="1.55"/>
<text x="407.90" y="997.27" font-size="12" text-anchor="end" font-weight="normal">20</text>
<line x1="409.20" y1="1014.10" x2="412.40" y2="1014.10" stroke="#000" stroke-width="1.55"/>
<text x="407.90" y="1018.40" font-size="12" text-anchor="end" font-weight="normal">0</text>
<line x1="436.00" y1="1014.10" x2="436.00" y2="1017.90" stroke="#000" stroke-width="1.55"/>
<text x="436.00" y="1028.70" font-size="12.5" text-anchor="middle" font-weight="normal">2</text>
<line x1="483.00" y1="1014.10" x2="483.00" y2="1017.90" stroke="#000" stroke-width="1.55"/>
<text x="483.00" y="1028.70" font-size="12.5" text-anchor="middle" font-weight="normal">3</text>
<text x="459.40" y="1040.50" font-size="12.5" text-anchor="middle" font-weight="normal">day</text>
<text x="389" y="984.5" font-size="12" transform="rotate(-90 389 984.5)" textLength="67" lengthAdjust="spacingAndGlyphs">c.p.m (x10<tspan font-size="8.5" dy="-4.5">4</tspan><tspan dy="4.5">)</tspan></text>
<line x1="436.00" y1="894.70" x2="483.00" y2="891.53" stroke="#000" stroke-width="1.8"/>
<rect x="432.75" y="891.45" width="6.5" height="6.5" fill="#000"/>
<rect x="479.75" y="888.28" width="6.5" height="6.5" fill="#000"/>
<line x1="436.00" y1="914.77" x2="483.00" y2="943.30" stroke="#000" stroke-width="1.8"/>
<polygon points="433.1,914.7733333333333 436,911.8733333333333 438.9,914.7733333333333 436,917.6733333333333" fill="#ddd" stroke="#000" stroke-width="1.9"/>
<polygon points="480.1,943.3033333333333 483,940.4033333333333 485.9,943.3033333333333 483,946.2033333333333" fill="#ddd" stroke="#000" stroke-width="1.9"/>
<line x1="436.00" y1="984.51" x2="483.00" y2="995.08" stroke="#000" stroke-width="1.8"/>
<polygon points="432.4,987.3933333333333 439.6,987.3933333333333 436,980.9133333333333" fill="#000"/>
<polygon points="479.4,997.96 486.6,997.96 483,991.48" fill="#000"/>
<line x1="432.50" y1="1005.50" x2="486.50" y2="1007.91" stroke="#000" stroke-width="1.7"/>
<line x1="436.00" y1="1002.45" x2="436.00" y2="1008.85" stroke="#000" stroke-width="1.4"/>
<line x1="483.00" y1="1004.56" x2="483.00" y2="1010.96" stroke="#000" stroke-width="1.4"/>
<line x1="403.30" y1="835.10" x2="421.30" y2="835.10" stroke="#000" stroke-width="1.5"/>
<rect x="409.60" y="832.30" width="5.6" height="5.6" fill="#000"/>
<text x="425.50" y="839.00" font-size="12.4" text-anchor="start" font-weight="normal">-</text>
<line x1="403.30" y1="846.95" x2="421.30" y2="846.95" stroke="#000" stroke-width="1.5"/>
<polygon points="409.9,846.95 412.4,844.45 414.9,846.95 412.4,849.45" fill="#ddd" stroke="#000" stroke-width="1.9"/>
<text x="425.50" y="850.85" font-size="12.4" text-anchor="start" font-weight="normal">Dex</text>
<line x1="403.30" y1="858.80" x2="421.30" y2="858.80" stroke="#000" stroke-width="1.5"/>
<polygon points="409.59999999999997,861.0400000000001 415.2,861.0400000000001 412.4,856.0000000000001" fill="#000"/>
<text x="425.50" y="862.70" font-size="12.4" text-anchor="start" font-weight="normal">Rap</text>
<line x1="403.30" y1="870.65" x2="421.30" y2="870.65" stroke="#000" stroke-width="1.5"/>
<line x1="412.40" y1="867.45" x2="412.40" y2="873.85" stroke="#000" stroke-width="1.4"/>
<text x="425.50" y="874.55" font-size="12.4" text-anchor="start" font-weight="normal">Rap + Dex</text>
</svg>
</body></html>
